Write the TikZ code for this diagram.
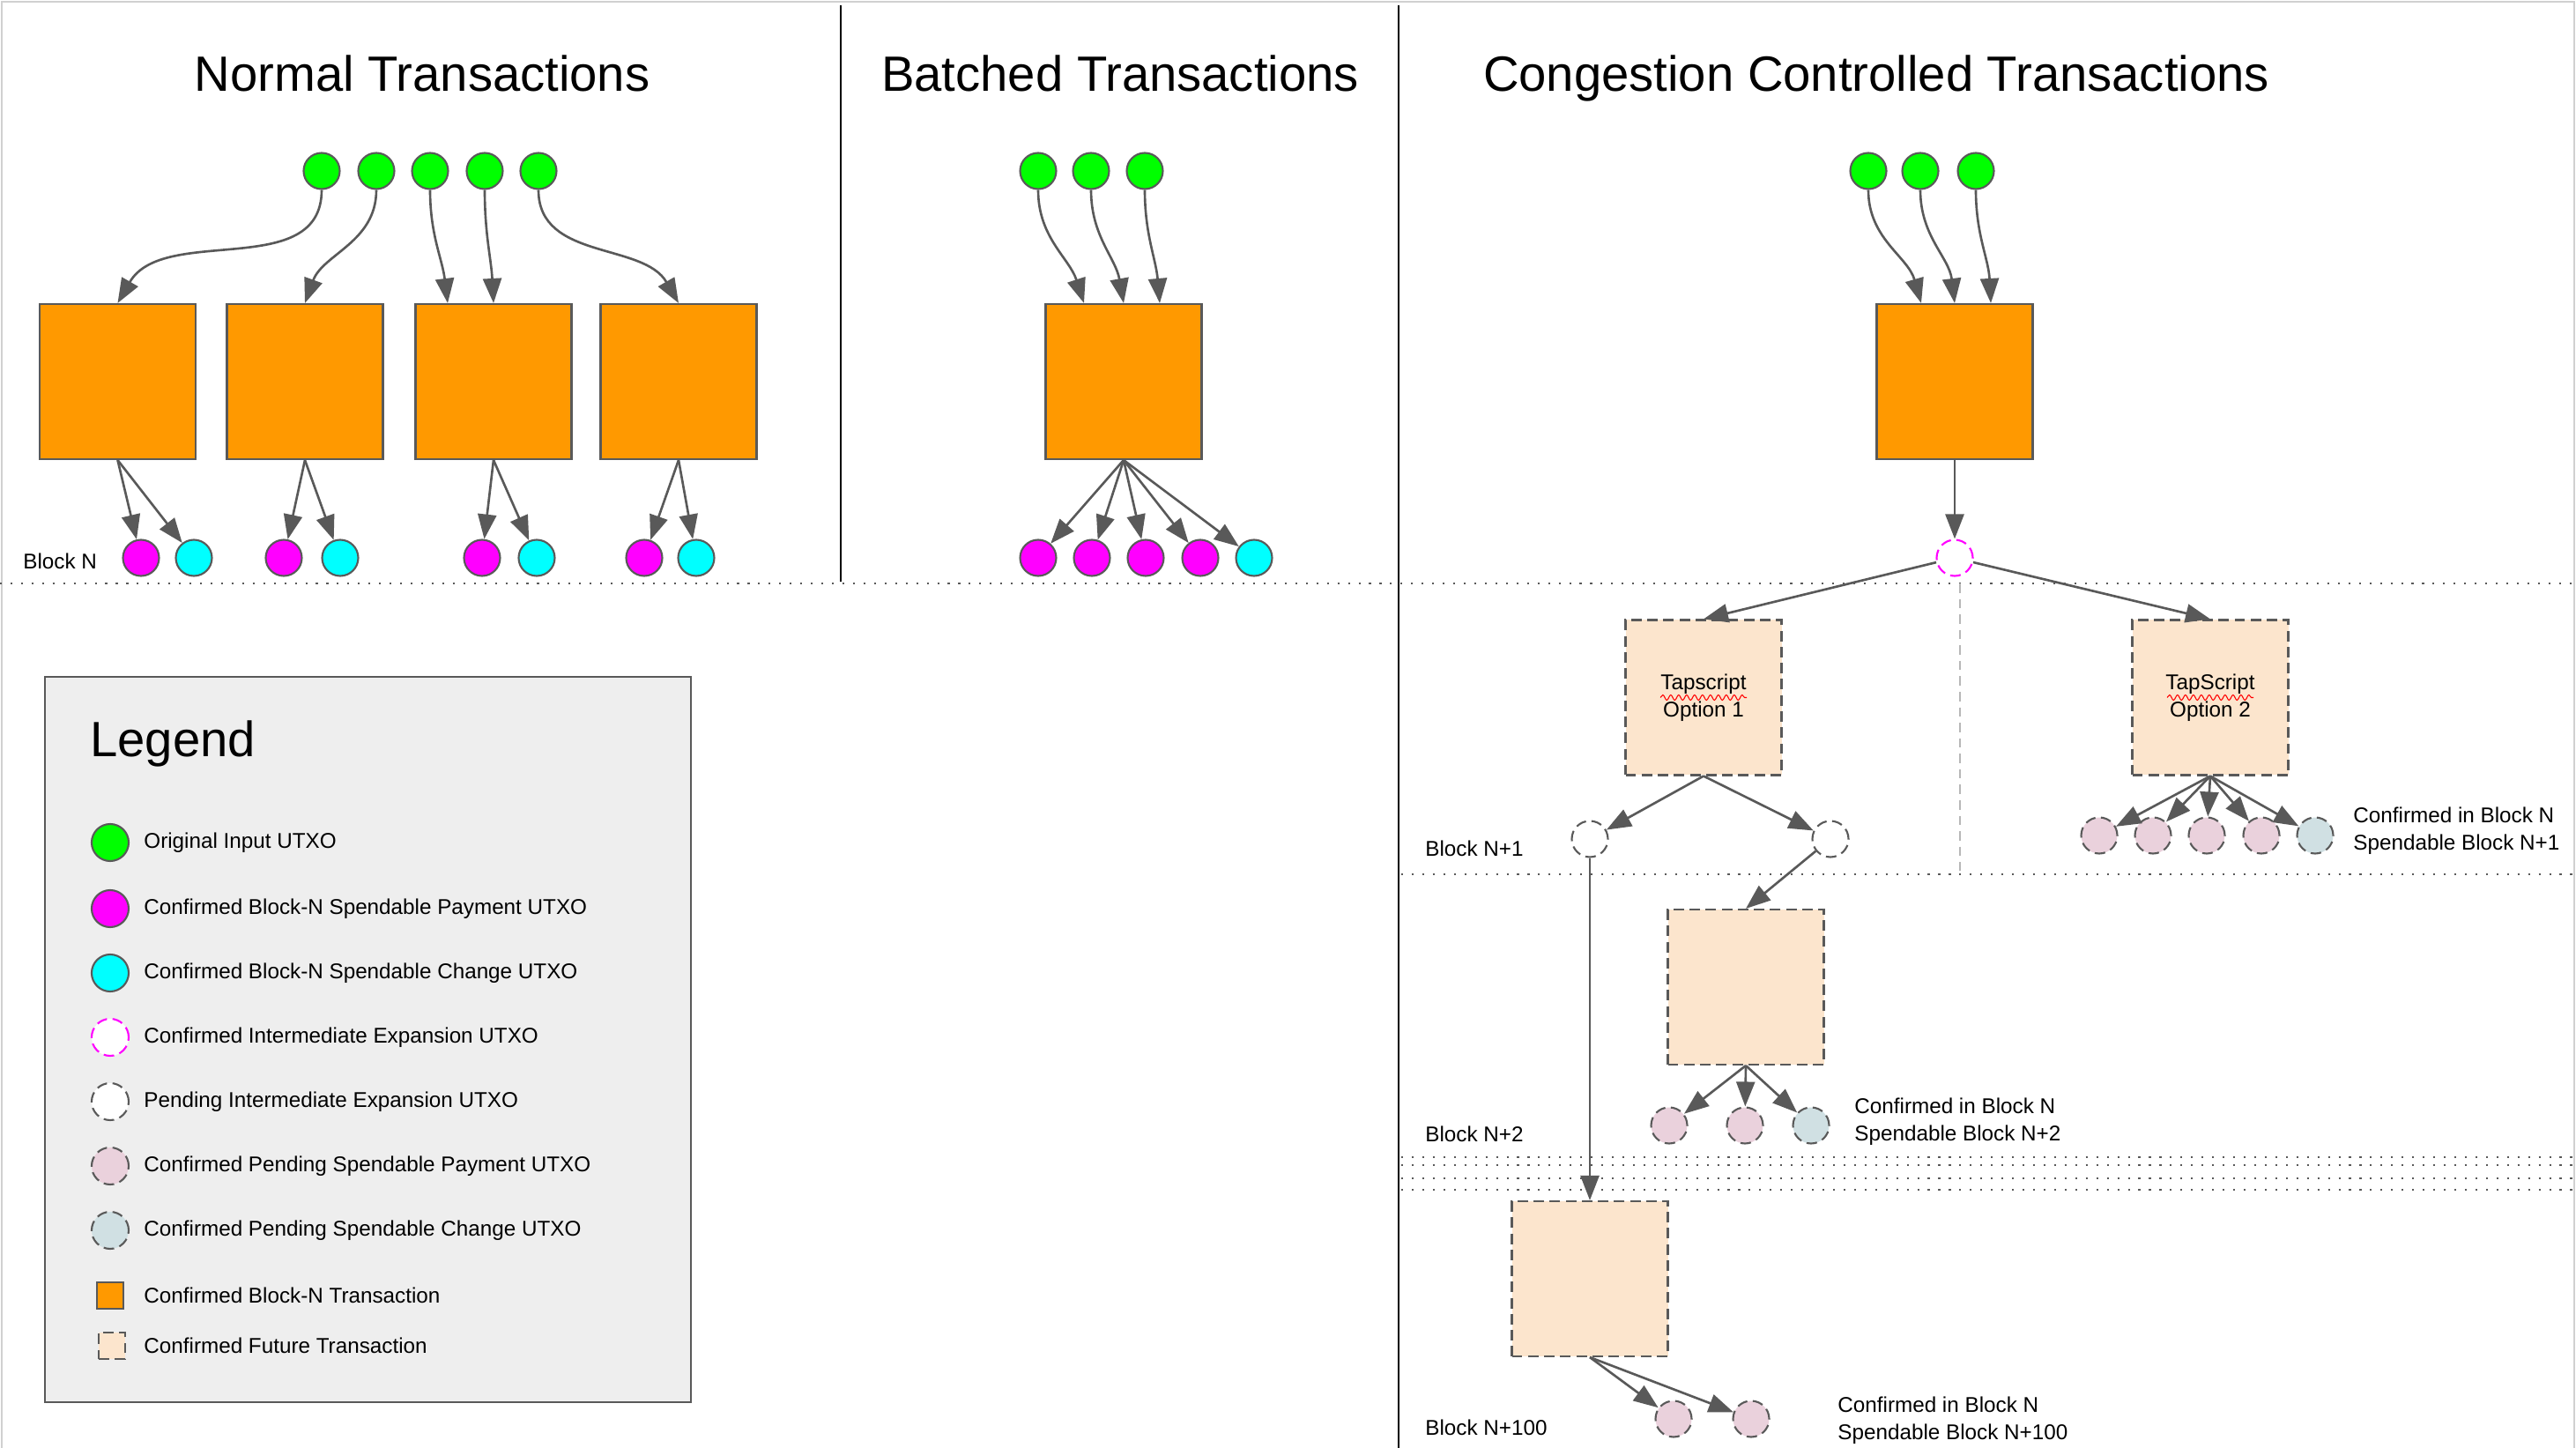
\documentclass[tikz,border=0pt]{standalone}
\usepackage{fontspec}
\setmainfont{Liberation Sans}
\usepackage{xcolor}
\usepackage{tikz}
\usetikzlibrary{arrows.meta, positioning, decorations.pathmorphing}

\definecolor{ingreen}{HTML}{00FF00}
\definecolor{paymag}{HTML}{FF00FF}
\definecolor{chgcyan}{HTML}{00FFFF}
\definecolor{txorange}{HTML}{FF9900}
\definecolor{futpeach}{HTML}{FCE5CD}
\definecolor{pendpink}{HTML}{EAD1DC}
\definecolor{pendblue}{HTML}{D0E0E3}
\definecolor{edgegray}{HTML}{595959}
\definecolor{legendbg}{HTML}{EEEEEE}
\definecolor{framegray}{HTML}{D0D0D0}
\definecolor{splitgray}{HTML}{B7B7B7}

\begin{document}
\begin{tikzpicture}[>={Triangle[length=2.8mm, width=2.1mm]},
    font=\fontsize{6.9}{8.7}\selectfont,
    utxo/.style={circle, minimum size=4.1mm, inner sep=0pt, draw=edgegray, line width=0.6pt},
    dashborder/.style={dash pattern=on 3.4pt off 1.8pt},
    input/.style={utxo, fill=ingreen},
    pay/.style={utxo, fill=paymag},
    chg/.style={utxo, fill=chgcyan},
    cexp/.style={utxo, draw=paymag, fill=white, dashborder},
    pexp/.style={utxo, fill=white, dashborder},
    ppay/.style={utxo, fill=pendpink, dashborder},
    pchg/.style={utxo, fill=pendblue, dashborder},
    txbox/.style={rectangle, minimum width=1.77cm, minimum height=1.76cm, inner sep=0pt,
        draw=edgegray, line width=0.6pt, fill=txorange},
    futbox/.style={txbox, fill=futpeach, dashborder, align=center},
    flow/.style={->, draw=edgegray, line width=0.75pt},
    blockline/.style={edgegray, line width=0.6pt, dash pattern=on 0.6pt off 2.8pt},
    divider/.style={black, line width=0.7pt},
    title/.style={font=\fontsize{16}{19}\selectfont, anchor=base}]

    % =================================================================
    % 1. KHUNG, ĐƯỜNG CHIA CỘT VÀ CÁC ĐƯỜNG BLOCK
    % =================================================================
    \useasboundingbox (0,0) rectangle (29.23,-16.43);
    \draw[framegray, line width=0.5pt] (0.02,-16.43) -- (0.02,-0.02) -- (29.21,-0.02) -- (29.21,-16.43);

    % Hai đường chia cột
    \draw[divider] (9.54,-0.06) -- (9.54,-6.60);
    \draw[divider] (15.87,-0.06) -- (15.87,-16.43);

    % Các đường chấm ngăn cách block
    \draw[blockline] (0,-6.62) -- (29.23,-6.62);
    \draw[blockline] (15.90,-9.92) -- (29.23,-9.92);
    \draw[blockline] (15.90,-13.13) -- (29.23,-13.13);
    \draw[blockline] (15.90,-13.22) -- (29.23,-13.22);
    \draw[blockline] (15.90,-13.37) -- (29.23,-13.37);
    \draw[blockline] (15.90,-13.50) -- (29.23,-13.50);

    % Đường nét đứt chia hai nhánh Tapscript
    \draw[splitgray, line width=0.45pt, dash pattern=on 3pt off 2pt] (22.24,-6.62) -- (22.24,-9.88);

    % =================================================================
    % 2. TIÊU ĐỀ
    % =================================================================
    \node[title] (tNormal) at (4.79,-1.04) {Normal Transactions};
    \node[title] (tBatched) at (12.71,-1.04) {Batched Transactions};
    \node[title] (tCongest) at (21.29,-1.04) {Congestion Controlled Transactions};

    % =================================================================
    % 3. GIAO DỊCH THÔNG THƯỜNG
    % =================================================================
    \node[input] (g1) at (3.65,-1.94) {};
    \node[input] (g2) at (4.27,-1.94) {};
    \node[input] (g3) at (4.88,-1.94) {};
    \node[input] (g4) at (5.50,-1.94) {};
    \node[input] (g5) at (6.11,-1.94) {};

    \node[txbox] (n1) at (1.335,-4.33) {};
    \node[txbox] (n2) at (3.46,-4.33) {};
    \node[txbox] (n3) at (5.60,-4.33) {};
    \node[txbox] (n4) at (7.70,-4.33) {};

    \node[pay] (p1) at (1.60,-6.33) {};
    \node[chg] (c1) at (2.20,-6.33) {};
    \node[pay] (p2) at (3.22,-6.33) {};
    \node[chg] (c2) at (3.86,-6.33) {};
    \node[pay] (p3) at (5.47,-6.33) {};
    \node[chg] (c3) at (6.09,-6.33) {};
    \node[pay] (p4) at (7.31,-6.33) {};
    \node[chg] (c4) at (7.90,-6.33) {};

    \node[anchor=west] (lblN) at (0.14,-6.37) {Block N};

    \draw[flow] (g1) to[out=-90, in=60] (n1.north);
    \draw[flow] (g2) to[out=-90, in=70] (n2.north);
    \draw[flow] (g3) to[out=-90, in=97] ([xshift=-5.2mm]n3.north);
    \draw[flow] (g4) to[out=-90, in=93] (n3.north);
    \draw[flow] (g5) to[out=-90, in=120] (n4.north);

    \draw[flow] (n1.south) -- (p1);
    \draw[flow] (n1.south) -- (c1);
    \draw[flow] (n2.south) -- (p2);
    \draw[flow] (n2.south) -- (c2);
    \draw[flow] (n3.south) -- (p3);
    \draw[flow] (n3.south) -- (c3);
    \draw[flow] (n4.south) -- (p4);
    \draw[flow] (n4.south) -- (c4);

    % =================================================================
    % 4. GIAO DỊCH GỘP
    % =================================================================
    \node[input] (bg1) at (11.78,-1.94) {};
    \node[input] (bg2) at (12.38,-1.94) {};
    \node[input] (bg3) at (12.99,-1.94) {};

    \node[txbox] (bt) at (12.75,-4.33) {};

    \node[pay] (bp1) at (11.78,-6.33) {};
    \node[pay] (bp2) at (12.39,-6.33) {};
    \node[pay] (bp3) at (13.00,-6.33) {};
    \node[pay] (bp4) at (13.62,-6.33) {};
    \node[chg] (bc1) at (14.23,-6.33) {};

    \draw[flow] (bg1) to[out=-90, in=108] ([xshift=-4.5mm]bt.north);
    \draw[flow] (bg2) to[out=-90, in=100] (bt.north);
    \draw[flow] (bg3) to[out=-90, in=95] ([xshift=4.1mm]bt.north);

    \draw[flow] (bt.south) -- (bp1);
    \draw[flow] (bt.south) -- (bp2);
    \draw[flow] (bt.south) -- (bp3);
    \draw[flow] (bt.south) -- (bp4);
    \draw[flow] (bt.south) -- (bc1);

    % =================================================================
    % 5. GIAO DỊCH KIỂM SOÁT TẮC NGHẼN
    % =================================================================
    \node[input] (cg1) at (21.20,-1.94) {};
    \node[input] (cg2) at (21.79,-1.94) {};
    \node[input] (cg3) at (22.42,-1.94) {};

    \node[txbox] (ct) at (22.18,-4.33) {};
    \node[cexp] (e0) at (22.18,-6.33) {};

    % Hai nhánh Tapscript
    \node[futbox] (o1) at (19.33,-7.915) {Tapscript\\Option 1};
    \node[futbox] (o2) at (25.08,-7.915) {TapScript\\Option 2};
    \draw[red, line width=0.3pt, decorate, decoration={snake, amplitude=0.3mm, segment length=0.9mm}]
        ([xshift=-4.9mm]o1.center) -- ([xshift=4.9mm]o1.center);
    \draw[red, line width=0.3pt, decorate, decoration={snake, amplitude=0.3mm, segment length=0.9mm}]
        ([xshift=-4.9mm]o2.center) -- ([xshift=4.9mm]o2.center);

    \node[pexp] (x1) at (18.04,-9.52) {};
    \node[pexp] (x2) at (20.77,-9.52) {};

    \node[ppay] (q1) at (23.82,-9.48) {};
    \node[ppay] (q2) at (24.43,-9.48) {};
    \node[ppay] (q3) at (25.04,-9.48) {};
    \node[ppay] (q4) at (25.66,-9.48) {};
    \node[pchg] (q5) at (26.27,-9.48) {};

    % Block N+2 và Block N+100
    \node[futbox] (f2) at (19.81,-11.20) {};
    \node[ppay] (r1) at (18.94,-12.77) {};
    \node[ppay] (r2) at (19.80,-12.77) {};
    \node[pchg] (r3) at (20.55,-12.77) {};

    \node[futbox] (f3) at (18.04,-14.51) {};
    \node[ppay] (s1) at (18.99,-16.10) {};
    \node[ppay] (s2) at (19.87,-16.10) {};

    % Nhãn block
    \node[anchor=west] (lblN1) at (16.05,-9.63) {Block N+1};
    \node[anchor=west] (lblN2) at (16.05,-12.87) {Block N+2};
    \node[anchor=west] (lblN100) at (16.05,-16.20) {Block N+100};

    \node[anchor=west, align=left] (cf1) at (26.58,-9.43) {Confirmed in Block N\\Spendable Block N+1};
    \node[anchor=west, align=left] (cf2) at (20.92,-12.73) {Confirmed in Block N\\Spendable Block N+2};
    \node[anchor=west, align=left] (cf3) at (20.73,-16.12) {Confirmed in Block N\\Spendable Block N+100};

    % Mũi tên
    \draw[flow] (cg1) to[out=-90, in=106] ([xshift=-3.8mm]ct.north);
    \draw[flow] (cg2) to[out=-90, in=97] (ct.north);
    \draw[flow] (cg3) to[out=-90, in=93] ([xshift=4.1mm]ct.north);
    \draw[flow] (ct.south) -- (e0);

    \draw[flow] (e0) -- (o1.north);
    \draw[flow] (e0) -- (o2.north);

    \draw[flow] (o1.south) -- (x1);
    \draw[flow] (o1.south) -- (x2);
    \draw[flow] (o2.south) -- (q1);
    \draw[flow] (o2.south) -- (q2);
    \draw[flow] (o2.south) -- (q3);
    \draw[flow] (o2.south) -- (q4);
    \draw[flow] (o2.south) -- (q5);

    \draw[flow] (x2) -- (f2.north);
    \draw[flow] (x1) -- (f3.north);

    \draw[flow] (f2.south) -- (r1);
    \draw[flow] (f2.south) -- (r2);
    \draw[flow] (f2.south) -- (r3);
    \draw[flow] (f3.south) -- (s1);
    \draw[flow] (f3.south) -- (s2);

    % =================================================================
    % 6. CHÚ THÍCH
    % =================================================================
    \draw[draw=edgegray, fill=legendbg, line width=0.6pt] (0.51,-7.68) rectangle (7.84,-15.91);
    \node[title, anchor=base west] (tLegend) at (0.90,-8.58) {Legend};

    \node[input, minimum size=4.2mm] (kIn) at (1.25,-9.56) {};
    \node[pay, minimum size=4.2mm] (kPay) at (1.25,-10.31) {};
    \node[chg, minimum size=4.2mm] (kChg) at (1.25,-11.04) {};
    \node[cexp, minimum size=4.2mm] (kCexp) at (1.25,-11.77) {};
    \node[pexp, minimum size=4.2mm] (kPexp) at (1.25,-12.50) {};
    \node[ppay, minimum size=4.2mm] (kPpay) at (1.25,-13.23) {};
    \node[pchg, minimum size=4.2mm] (kPchg) at (1.25,-13.96) {};
    \node[txbox, minimum width=3mm, minimum height=3mm] (kTx) at (1.25,-14.70) {};
    \node[futbox, minimum width=3mm, minimum height=3mm] (kFut) at (1.27,-15.27) {};

    \node[anchor=west] at (1.51,-9.56) {Original Input UTXO};
    \node[anchor=west] at (1.51,-10.31) {Confirmed Block-N Spendable Payment UTXO};
    \node[anchor=west] at (1.51,-11.04) {Confirmed Block-N Spendable Change UTXO};
    \node[anchor=west] at (1.51,-11.77) {Confirmed Intermediate Expansion UTXO};
    \node[anchor=west] at (1.51,-12.50) {Pending Intermediate Expansion UTXO};
    \node[anchor=west] at (1.51,-13.23) {Confirmed Pending Spendable Payment UTXO};
    \node[anchor=west] at (1.51,-13.96) {Confirmed Pending Spendable Change UTXO};
    \node[anchor=west] at (1.51,-14.70) {Confirmed Block-N Transaction};
    \node[anchor=west] at (1.51,-15.27) {Confirmed Future Transaction};

\end{tikzpicture}
\end{document}
